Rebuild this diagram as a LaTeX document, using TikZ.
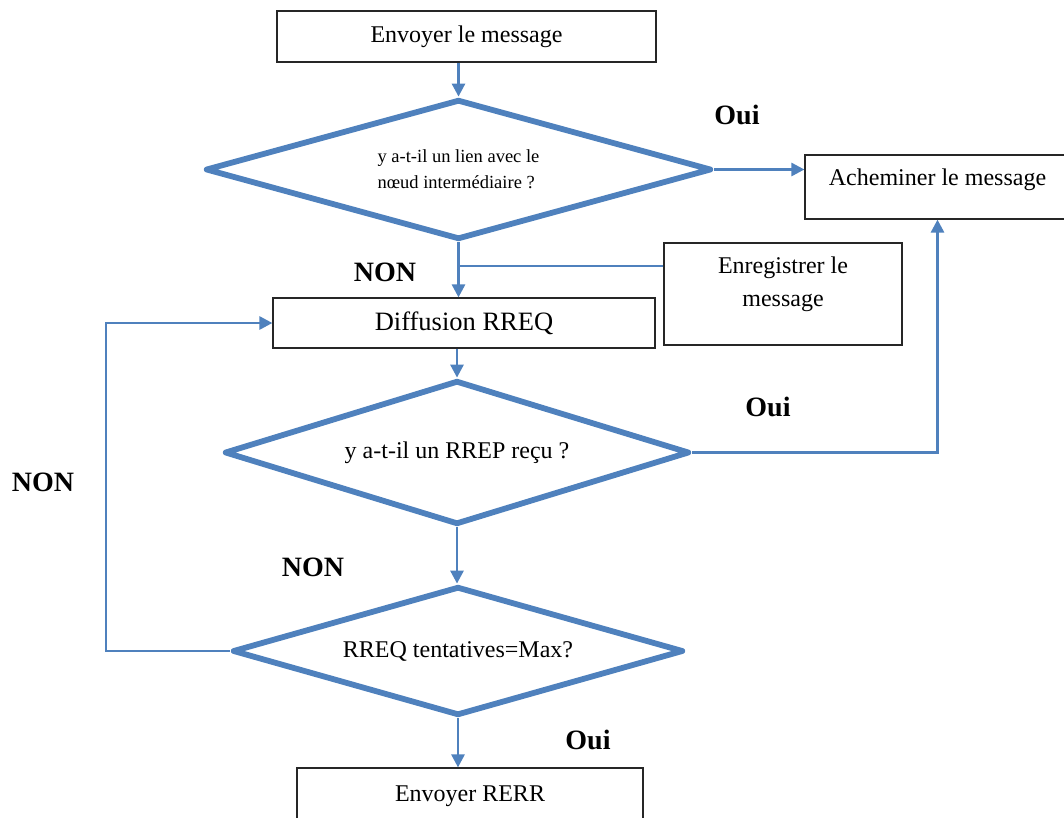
\documentclass[tikz,border=0pt]{standalone}
\usepackage{fontspec}
\setmainfont{Liberation Serif}
\usetikzlibrary{shapes.geometric,arrows.meta}
\definecolor{flowblue}{RGB}{79,129,189}
\begin{document}
\begin{tikzpicture}[x=1pt,y=-1pt,
  box/.style={draw=black!85,line width=1.2pt,inner sep=0pt},
  decision/.style={diamond,aspect=3.5,draw=flowblue,line width=5.8pt,line join=round,inner sep=0pt,
    font=\fontsize{24}{28}\selectfont},
  txt/.style={inner sep=0pt,font=\fontsize{24}{28}\selectfont},
  answer/.style={inner sep=0pt,font=\fontsize{28}{32}\selectfont\bfseries},
  link/.style={draw=flowblue,line width=2.8pt},
  flow/.style={link,-{Triangle[length=13pt,width=13pt]}}]
\useasboundingbox (0,0) rectangle (1064,817);

% process boxes
\node[box,minimum width=379pt,minimum height=51pt,txt] (send) at (466.5,36.5) {Envoyer le message};
\node[box,minimum width=265pt,minimum height=64pt] (route) at (937.5,187) {};
\node[txt] (routet) at (937.5,180) {Acheminer le message};
\node[box,minimum width=238pt,minimum height=102pt] (store) at (783,294) {};
\node[txt,align=center,font=\fontsize{24}{33}\selectfont] (storet) at (783,284) {Enregistrer le\\message};
\node[box,minimum width=382pt,minimum height=50pt,txt,font=\fontsize{26.5}{30}\selectfont] (rreq) at (464,323) {Diffusion RREQ};
\node[box,minimum width=346pt,minimum height=62pt] (rerr) at (470,799) {};
\node[txt] (rerrt) at (470,796) {Envoyer RERR};

% decisions
\node[decision,minimum width=506pt,minimum height=140pt,align=left,
  font=\fontsize{18.5}{26}\selectfont] (link) at (458.5,169.5)
  {y a-t-il un lien avec le\\nœud intermédiaire ?};
\node[decision,minimum width=465pt,minimum height=144pt] (rrep) at (457,452.5) {y a-t-il un RREP reçu ?};
\node[decision,minimum width=451pt,minimum height=129pt] (tries) at (458,651) {RREQ tentatives=Max?};

% answers
\node[answer] (yes1) at (737,115) {Oui};
\node[answer] (no1) at (385,272) {NON};
\node[answer] (yes2) at (768,407) {Oui};
\node[answer] (no2) at (313,567) {NON};
\node[answer] (no3) at (43,482) {NON};
\node[answer] (yes3) at (588,740) {Oui};

% connectors
\coordinate (loop) at (106,651);
\draw[flow] (link.north |- send.south) -- (link.north);
\draw[flow] (link.east) -- (link.east -| route.west);
\draw[flow] (link.south) -- (link.south |- rreq.north);
\draw[link] ([yshift=28pt]store.west) -- ([yshift=28pt]store.west -| link.south);
\draw[flow] (rrep.north |- rreq.south) -- (rrep.north);
\draw[flow] (rrep.east) -| (route.south);
\draw[flow] (rrep.south) -- (rrep.south |- tries.north);
\draw[flow] (tries.west) -- (loop) |- (rreq.west);
\draw[flow] (tries.south) -- (tries.south |- rerr.north);
\end{tikzpicture}
\end{document}
